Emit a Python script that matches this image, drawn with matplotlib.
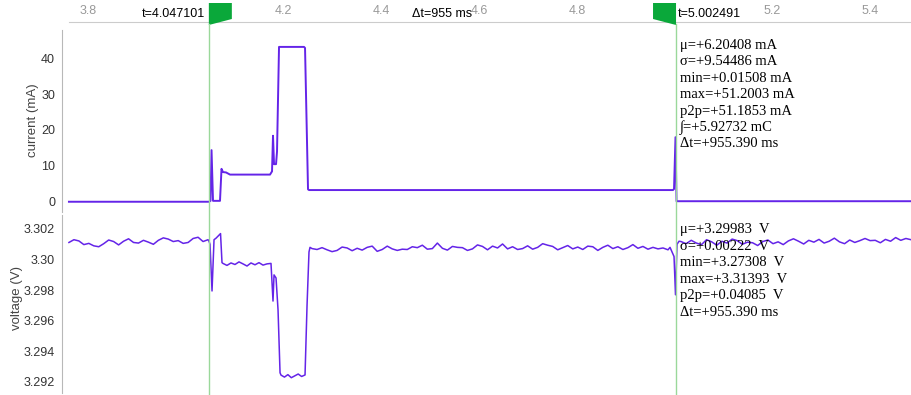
import numpy as np
import matplotlib
matplotlib.use("Agg")
import matplotlib.pyplot as plt
from matplotlib.patches import Polygon
from matplotlib.lines import Line2D
from matplotlib.transforms import blended_transform_factory, offset_copy

# cursor times (s)
t_cur1 = 4.047101
t_cur2 = 5.002491
t_start = 3.761
t_end = 5.483

# current trace breakpoints (s, mA)
cur_t = [t_start, 4.0474, 4.0505, 4.0526, 4.0556, 4.0699, 4.0730, 4.0760, 4.0822,
         4.0904, 4.1722, 4.1763, 4.1783, 4.1804, 4.1845, 4.1865, 4.1906, 4.2418,
         4.2438, 4.2499, 4.2520, 4.9963, 4.9984, 5.0014, 5.0035, t_end]
cur_v = [0.05, 0.05, 0.3, 14.4, 0.3, 0.3, 9.2, 8.3, 8.2,
         7.6, 7.6, 8.5, 18.4, 10.5, 10.5, 14.0, 43.1, 43.1,
         42.8, 3.5, 3.3, 3.3, 3.6, 18.0, 0.2, 0.2]

# voltage trace (V), noisy stretches sampled evenly, edges given point by point
volt_pre = [3.30112, 3.30130, 3.30122, 3.30098, 3.30106, 3.30090, 3.30084, 3.30104,
            3.30128, 3.30118, 3.30096, 3.30120, 3.30136, 3.30112, 3.30108, 3.30126,
            3.30114, 3.30100, 3.30126, 3.30142, 3.30134, 3.30118, 3.30124, 3.30106,
            3.30112, 3.30138, 3.30146, 3.30118, 3.30130]
edge1_t = [4.0474, 4.0495, 4.0536, 4.0577, 4.0618, 4.0679, 4.0710, 4.0740]
edge1_v = [3.3012, 3.3010, 3.29795, 3.3013, 3.3014, 3.3016, 3.3017, 3.2998]
volt_mid = [3.29975, 3.29962, 3.29978, 3.29968, 3.29985, 3.29972, 3.29958, 3.29978,
            3.29966, 3.29980, 3.29964, 3.29972, 3.29975]
edge2_t = [4.1783, 4.1804, 4.1845, 4.1886, 4.1927]
edge2_v = [3.29729, 3.2990, 3.2988, 3.2967, 3.2926]
volt_low = [3.29245, 3.29232, 3.29248, 3.29228, 3.29240, 3.29252, 3.29236, 3.29246]
edge3_t = [4.2479, 4.2519, 4.2540]
edge3_v = [3.2970, 3.3005, 3.3008]
volt_mid2 = [3.30072, 3.30066, 3.30078, 3.30064, 3.30052, 3.30060, 3.30082, 3.30076, 3.30058, 3.30074,
             3.30062, 3.30080, 3.30088, 3.30054, 3.30066, 3.30088, 3.30070, 3.30060, 3.30068, 3.30066,
             3.30084, 3.30078, 3.30094, 3.30068, 3.30072, 3.30108, 3.30074, 3.30062, 3.30086, 3.30080,
             3.30078, 3.30060, 3.30070, 3.30096, 3.30086, 3.30064, 3.30088, 3.30076, 3.30102, 3.30070,
             3.30084, 3.30066, 3.30072, 3.30090, 3.30068, 3.30080, 3.30104, 3.30094, 3.30086, 3.30064,
             3.30078, 3.30092, 3.30070, 3.30082, 3.30066, 3.30088, 3.30084, 3.30060, 3.30080, 3.30094,
             3.30072, 3.30084, 3.30066, 3.30078, 3.30098, 3.30074, 3.30086, 3.30068, 3.30080, 3.30070,
             3.30076, 3.30064]
edge4_t = [4.9902, 4.9943, 4.9984, 5.0014, 5.0045, 5.0086]
edge4_v = [3.3008, 3.3005, 3.3002, 3.2977, 3.3010, 3.3012]
volt_post = [3.30118, 3.30104, 3.30126, 3.30108, 3.30098, 3.30130, 3.30116, 3.30094, 3.30120, 3.30108,
             3.30134, 3.30124, 3.30100, 3.30114, 3.30110, 3.30092, 3.30118, 3.30128, 3.30104, 3.30116,
             3.30098, 3.30122, 3.30136, 3.30120, 3.30102, 3.30126, 3.30114, 3.30132, 3.30108, 3.30120,
             3.30140, 3.30116, 3.30104, 3.30128, 3.30112, 3.30124, 3.30138, 3.30124, 3.30126, 3.30110,
             3.30132, 3.30120, 3.30144, 3.30126, 3.30138, 3.30130]

volt_t = np.concatenate([np.linspace(t_start, 4.0454, len(volt_pre)), edge1_t,
                         np.linspace(4.0760, 4.1742, len(volt_mid)), edge2_t,
                         np.linspace(4.1947, 4.2438, len(volt_low)), edge3_t,
                         np.linspace(4.2581, 4.9861, len(volt_mid2)), edge4_t,
                         np.linspace(5.0127, t_end, len(volt_post))])
volt_v = np.concatenate([volt_pre, edge1_v, volt_mid, edge2_v, volt_low, edge3_v,
                         volt_mid2, edge4_v, volt_post])

x_ticks = [3.8, 4.0, 4.2, 4.4, 4.6, 4.8, 5.0, 5.2, 5.4]
x_labels = ['3.8', '', '4.2', '4.4', '4.6', '4.8', '', '5.2', '5.4']
cur_ticks = [0, 10, 20, 30, 40]
volt_ticks = [3.292, 3.294, 3.296, 3.298, 3.300, 3.302]
volt_labels = ['3.292', '3.294', '3.296', '3.298', '3.30', '3.302']

stats_cur = ['μ=+6.20408 mA', 'σ=+9.54486 mA', 'min=+0.01508 mA', 'max=+51.2003 mA',
             'p2p=+51.1853 mA', '∫=+5.92732 mC', 'Δt=+955.390 ms']
stats_volt = ['μ=+3.29983  V', 'σ=+0.00222  V', 'min=+3.27308  V', 'max=+3.31393  V',
              'p2p=+0.04085  V', 'Δt=+955.390 ms']

W, H = 911, 395
line_col = '#6424e8'
cursor_col = '#9ad89a'
flag_col = '#0aa83a'
xmin, xmax = 3.7468, 5.4830

plt.rcParams['font.family'] = ['Liberation Sans', 'DejaVu Sans']
fig = plt.figure(figsize=(W / 100, H / 100), dpi=100)
ax1 = fig.add_axes([62 / W, 1 - 212 / H, 849 / W, 182 / H])
ax2 = fig.add_axes([62 / W, 1 - 393 / H, 849 / W, 178 / H])

ax1.plot(cur_t, cur_v, color=line_col, lw=1.4)
ax2.plot(volt_t, volt_v, color=line_col, lw=1.1)

for ax in (ax1, ax2):
    ax.set_xlim(xmin, xmax)
    for s in ('right', 'bottom', 'top'):
        ax.spines[s].set_visible(False)
    ax.spines['left'].set_color('#b8b8b8')
    ax.tick_params(axis='y', length=0, pad=5, labelsize=9, labelcolor='#333333')
    ax.set_xticks([])

ax1.set_ylim(-2.8, 47.8)
ax1.set_yticks(cur_ticks)
ax2.set_ylim(3.29128, 3.302915)
ax2.set_yticks(volt_ticks)
ax2.set_yticklabels(volt_labels)

# time ruler along the top
ax1.spines['top'].set_visible(True)
ax1.spines['top'].set_position(('outward', 6))
ax1.spines['top'].set_color('#cccccc')
ax1.spines['top'].set_bounds(t_start, xmax)
ax1.set_xticks(x_ticks)
ax1.set_xticklabels(x_labels)
ax1.tick_params(axis='x', top=True, bottom=False, labeltop=True, labelbottom=False,
                length=0, pad=3, labelsize=9, labelcolor='#999999')

ax1.set_ylabel('current (mA)', fontsize=9.5, color='#444444')
ax1.yaxis.set_label_coords(-0.0270, 0.505)
ax2.set_ylabel('voltage (V)', fontsize=9.5, color='#444444')
ax2.yaxis.set_label_coords(-0.0465, 0.534)

# cursors and flags
trans = blended_transform_factory(ax1.transData, fig.transFigure)
dx = (xmax - xmin) * 23 / 849
for t in (t_cur1, t_cur2):
    fig.add_artist(Line2D([t, t], [0, 1 - 24 / H], color=cursor_col, lw=1, transform=trans))
flag1 = [(t_cur1, 1 - 3 / H), (t_cur1 + dx, 1 - 3 / H), (t_cur1 + dx, 1 - 19 / H), (t_cur1, 1 - 25 / H)]
flag2 = [(t_cur2 - dx, 1 - 3 / H), (t_cur2, 1 - 3 / H), (t_cur2, 1 - 25 / H), (t_cur2 - dx, 1 - 19 / H)]
for f in (flag1, flag2):
    fig.add_artist(Polygon(f, closed=True, color=flag_col, transform=trans, lw=0))

y_lab = 1 - 14 / H
fig.text(t_cur1, y_lab, 't=4.047101', fontsize=9, ha='right', va='center',
         transform=offset_copy(trans, fig=fig, x=-4, units='dots'))
fig.text(t_cur2, y_lab, 't=5.002491', fontsize=9, ha='left', va='center',
         transform=offset_copy(trans, fig=fig, x=2, units='dots'))
fig.text((t_cur1 + t_cur2) / 2, y_lab, 'Δt=955 ms', fontsize=9, ha='center', va='center',
         transform=trans)

# statistics readout next to the second cursor
serif = ['Liberation Serif', 'DejaVu Serif']
for i, s in enumerate(stats_cur):
    fig.text(t_cur2, 1 - (45 + 16.5 * i) / H, s, family=serif, fontsize=10.5, va='center',
             transform=offset_copy(trans, fig=fig, x=4, units='dots'))
for i, s in enumerate(stats_volt):
    fig.text(t_cur2, 1 - (230 + 16.5 * i) / H, s, family=serif, fontsize=10.5, va='center',
             transform=offset_copy(trans, fig=fig, x=4, units='dots'), zorder=5)

fig.savefig('out.png', dpi=100)
